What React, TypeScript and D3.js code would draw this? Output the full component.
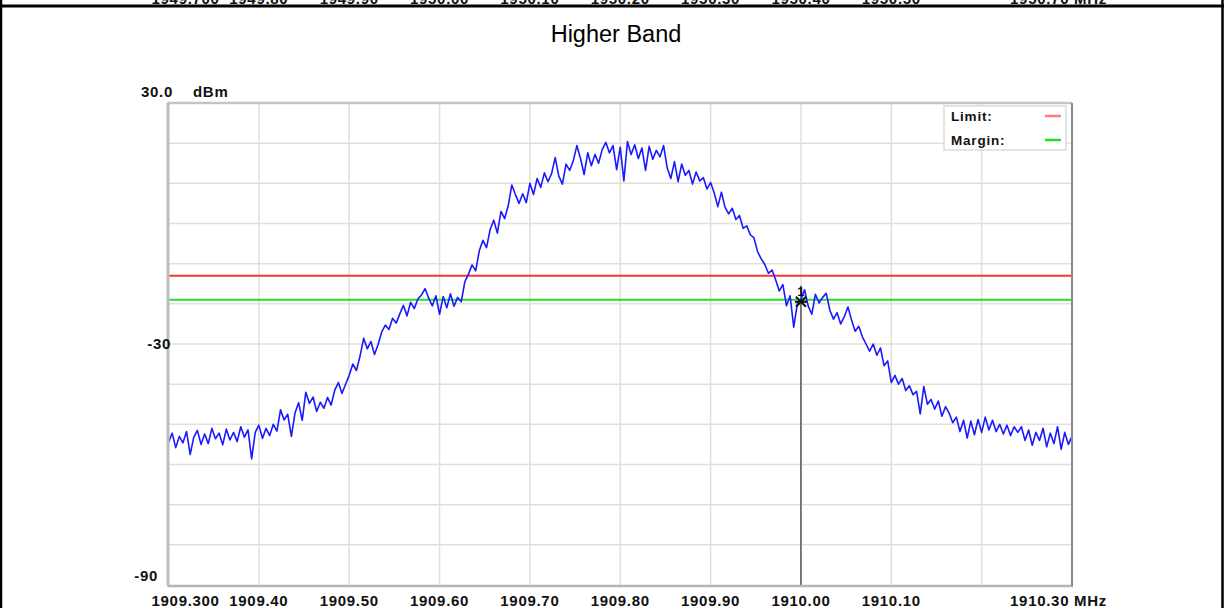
import * as d3 from "d3";

// sweep settings of the analyzer (MHz)
const sweepStart = 1909.3;
const sweepStop = 1910.3;

// trace level, dBm, one value per sweep step
const traceLevels = [
  -54.5, -52.2, -55.8, -53.0, -54.6, -51.8, -57.5, -53.2, -51.5, -55.0,
  -52.4, -54.8, -51.0, -53.6, -52.2, -55.1, -51.2, -53.9, -52.0, -54.3,
  -50.6, -53.2, -51.4, -58.6, -52.0, -50.2, -53.5, -51.0, -52.8, -50.0,
  -51.7, -46.4, -48.9, -47.5, -53.0, -47.2, -44.6, -49.0, -42.0, -44.8,
  -43.2, -46.8, -44.5, -46.0, -43.3, -45.2, -41.5, -39.6, -42.3, -40.0,
  -37.8, -35.0, -36.6, -33.0, -28.6, -31.2, -29.4, -32.6, -30.1, -27.0,
  -25.3, -26.4, -23.6, -24.8, -22.5, -20.4, -23.0, -19.6, -21.2, -18.8,
  -17.8, -16.2, -18.6, -20.5, -18.0, -22.6, -18.2, -21.0, -17.5, -20.6,
  -18.4, -19.5, -14.5, -12.6, -10.3, -11.8, -6.8, -4.2, -6.0, -1.5,
  0.8, -2.4, 3.0, 1.2, 4.4, 9.6, 7.2, 5.0, 7.4, 5.2,
  10.0, 7.2, 11.2, 9.0, 12.6, 10.4, 12.4, 16.4, 11.8, 9.8,
  14.8, 13.2, 15.6, 19.4, 16.2, 12.2, 17.6, 14.4, 17.2, 15.0,
  18.4, 20.2, 17.6, 19.4, 13.4, 19.0, 10.6, 20.4, 17.2, 19.6,
  16.2, 18.8, 13.2, 19.2, 16.0, 18.2, 16.6, 19.4, 13.8, 11.2,
  15.4, 10.4, 14.8, 12.0, 13.2, 9.8, 12.8, 10.6, 11.4, 8.6,
  10.2, 7.6, 4.2, 7.8, 4.0, 2.4, 3.8, 1.0, 2.0, -1.2,
  -0.6, -2.8, -3.6, -7.0, -8.8, -10.2, -12.4, -11.6, -14.0, -16.8,
  -15.2, -20.5, -18.0, -25.8, -20.0, -19.0, -16.5, -20.5, -22.6, -17.6,
  -19.8, -18.4, -17.4, -21.6, -23.8, -22.2, -25.0, -23.2, -20.8, -24.0,
  -26.8, -25.6, -28.2, -30.0, -31.8, -30.0, -32.8, -31.0, -35.4, -34.2,
  -39.6, -37.8, -40.0, -38.6, -41.6, -40.4, -42.6, -41.8, -47.4, -40.6,
  -45.0, -43.8, -46.2, -44.2, -48.0, -45.6, -47.2, -49.6, -48.2, -51.8,
  -49.0, -53.4, -49.2, -52.6, -48.8, -52.0, -48.2, -51.4, -49.0, -51.8,
  -50.0, -52.4, -50.2, -52.8, -50.6, -52.0, -50.6, -54.0, -51.4, -55.2,
  -52.0, -54.0, -51.0, -55.6, -52.2, -54.8, -50.6, -56.2, -52.0, -55.0,
  -53.0,
];

const limitLevel = -13;
const marginLevel = -19;
const markerFreq = 1910.0;
const markerLevel = -19;

const xTickLabels = [
  "1909.300", "1909.40", "1909.50", "1909.60", "1909.70", "1909.80",
  "1909.90", "1910.00", "1910.10", "", "1910.30 MHz",
];
// labels of the chart above, cut off by the page edge
const prevTickLabels = [
  "1949.700", "1949.80", "1949.90", "1950.00", "1950.10", "1950.20",
  "1950.30", "1950.40", "1950.50", "", "1950.70 MHz",
];
const yTopLabel = "30.0";
const yUnit = "dBm";
const yMidLabel = "-30";
const yBottomLabel = "-90";
const title = "Higher Band";

const font = "Arial, 'Liberation Sans', sans-serif";

function SpectrumPlot({
  width = 1224,
  height = 608,
  left = 168.5,
  right = 1072,
  top = 103,
  bottom = 585,
}) {
  const x = d3.scaleLinear().domain([sweepStart, sweepStop]).range([left, right]);
  const y = d3.scaleLinear().domain([30, -90]).range([top, bottom]);
  const step = (sweepStop - sweepStart) / (traceLevels.length - 1);
  const freqs = traceLevels.map((_, i) => sweepStart + i * step);
  const line = d3
    .line<number>()
    .x((_, i) => x(freqs[i]))
    .y(d => y(d));
  const xTicks = d3.range(11).map(i => sweepStart + i * 0.1);
  const yTicks = d3.range(13).map(i => 30 - i * 10);

  const labelX = (i: number) => {
    if (i === 0) return { x: x(xTicks[0]) - 17, anchor: "start" };
    if (i === xTicks.length - 1) return { x: x(xTicks[i]) + 35, anchor: "end" };
    return { x: x(xTicks[i]), anchor: "middle" };
  };

  const mx = x(markerFreq);
  const my = y(markerLevel);

  return (
    <svg
      width={width}
      height={height}
      style={{ position: "absolute", left: 0, top: 0, background: "#fff" }}
      fontFamily={font}
    >
      {/* frame of the page */}
      <line x1={0} x2={width} y1={6} y2={6} stroke="#000" strokeWidth={3} />
      <line x1={1} x2={1} y1={0} y2={height} stroke="#000" strokeWidth={2.5} />
      <line x1={1222.5} x2={1222.5} y1={0} y2={height} stroke="#000" strokeWidth={2.5} />

      {/* cut-off axis of the previous chart */}
      <g fontSize={15} fontWeight="bold" fill="#111" letterSpacing={0.7}>
        {prevTickLabels.map((t, i) => {
          const p = labelX(i);
          return t ? (
            <text key={i} x={p.x} y={3.5} textAnchor={p.anchor}>
              {t}
            </text>
          ) : null;
        })}
      </g>

      <text x={616} y={42} textAnchor="middle" fontSize={23.5} fill="#000">
        {title}
      </text>

      {/* grid */}
      <g stroke="#e2dfd8" strokeWidth={1.5}>
        {xTicks.slice(1, -1).map((t, i) => (
          <line key={"gx" + i} x1={x(t)} x2={x(t)} y1={top} y2={bottom} />
        ))}
        {yTicks.slice(1, -1).map((t, i) => (
          <line key={"gy" + i} x1={left} x2={right} y1={y(t)} y2={y(t)} />
        ))}
      </g>

      {/* limit and margin */}
      <line x1={left} x2={right} y1={y(limitLevel)} y2={y(limitLevel)} stroke="#ff3333" strokeWidth={2} />
      <line x1={left} x2={right} y1={y(marginLevel)} y2={y(marginLevel)} stroke="#22e022" strokeWidth={2} />

      {/* marker line */}
      <line x1={mx} x2={mx} y1={my - 14} y2={bottom} stroke="#555" strokeWidth={1.5} />

      {/* trace */}
      <path
        d={line(traceLevels) ?? undefined}
        fill="none"
        stroke="#1a1aff"
        strokeWidth={1.6}
        strokeLinejoin="round"
      />

      {/* marker */}
      <g stroke="#111" strokeWidth={2}>
        <line x1={mx - 5} x2={mx + 5} y1={my - 3} y2={my + 7} />
        <line x1={mx + 5} x2={mx - 5} y1={my - 3} y2={my + 7} />
        <line x1={mx - 6} x2={mx + 6} y1={my + 2} y2={my + 2} />
      </g>
      <text x={mx} y={my - 4} textAnchor="middle" fontSize={13} fontWeight="bold" fill="#111">
        1
      </text>

      {/* plot border */}
      <line x1={left - 1} x2={right} y1={top} y2={top} stroke="#c4c4c4" strokeWidth={2.5} />
      <line x1={left - 0.5} x2={left - 0.5} y1={top} y2={bottom + 1} stroke="#bdbdbd" strokeWidth={3} />
      <line x1={left - 1} x2={right + 1} y1={bottom + 1} y2={bottom + 1} stroke="#b5b5b5" strokeWidth={2.5} />
      <line x1={right} x2={right} y1={top} y2={bottom + 1} stroke="#8a8a8a" strokeWidth={2} />

      {/* legend */}
      <rect x={944} y={106} width={122} height={44} fill="#fff" stroke="#dcdcdc" strokeWidth={1.5} />
      <g fontSize={13.5} fontWeight="bold" fill="#111" letterSpacing={0.8}>
        <text x={951} y={121}>Limit:</text>
        <text x={951} y={145}>Margin:</text>
      </g>
      <line x1={1045} x2={1061} y1={116} y2={116} stroke="#ff7b7b" strokeWidth={2.5} />
      <line x1={1045} x2={1061} y1={140} y2={140} stroke="#22dd22" strokeWidth={2.5} />

      {/* y labels */}
      <g fontSize={15} fontWeight="bold" fill="#111" letterSpacing={0.7}>
        <text x={141} y={97}>{yTopLabel}</text>
        <text x={193} y={97}>{yUnit}</text>
        <text x={171} y={y(-30) + 5} textAnchor="end">{yMidLabel}</text>
        <text x={158} y={581} textAnchor="end">{yBottomLabel}</text>
      </g>

      {/* x labels */}
      <g fontSize={15} fontWeight="bold" fill="#111" letterSpacing={0.7}>
        {xTickLabels.map((t, i) => {
          const p = labelX(i);
          return t ? (
            <text key={i} x={p.x} y={606} textAnchor={p.anchor}>
              {t}
            </text>
          ) : null;
        })}
      </g>
    </svg>
  );
}

export default function App() {
  return (
    <div>
      <SpectrumPlot />
    </div>
  );
}
